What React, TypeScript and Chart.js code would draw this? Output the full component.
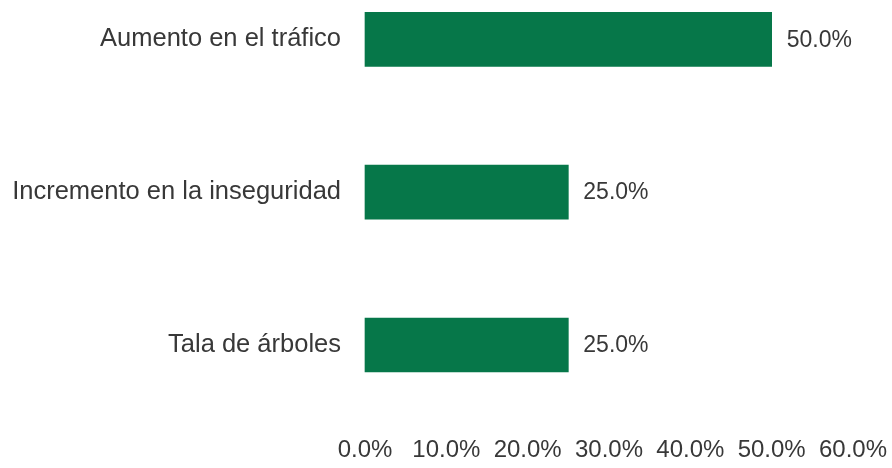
import React, { useEffect, useRef } from "react";
import { Chart, registerables } from "chart.js";

Chart.register(...registerables);

const categories = ["Aumento en el tráfico", "Incremento en la inseguridad", "Tala de árboles"];
const values = [50, 25, 25];
const xTicks = [0, 10, 20, 30, 40, 50, 60];

const FONT = "'Liberation Sans', Arial, sans-serif";
const TEXT = "#383838";
const GREEN = "#067749";

const valueLabels = {
  id: "valueLabels",
  afterDatasetsDraw(chart: any) {
    const ctx = chart.ctx;
    const meta = chart.getDatasetMeta(0);
    ctx.save();
    ctx.font = `23px ${FONT}`;
    ctx.fillStyle = TEXT;
    ctx.textAlign = "left";
    ctx.textBaseline = "middle";
    meta.data.forEach((bar: any, i: number) => {
      const v = chart.data.datasets[0].data[i] as number;
      ctx.fillText(v.toFixed(1) + "%", bar.x + 15, bar.y + 1);
    });
    ctx.restore();
  },
};

export default function App() {
  const ref = useRef<HTMLCanvasElement>(null);
  useEffect(() => {
    if (!ref.current) return;
    const chart = new Chart(ref.current, {
      type: "bar",
      data: {
        labels: categories,
        datasets: [
          {
            data: values,
            backgroundColor: GREEN,
            barThickness: 54,
            borderWidth: 0,
            clip: false as any,
          },
        ],
      },
      options: {
        indexAxis: "y",
        animation: false,
        responsive: false,
        maintainAspectRatio: false,
        layout: { padding: { top: 37, right: 39, bottom: 0, left: 0 } },
        plugins: { legend: { display: false }, tooltip: { enabled: false } },
        scales: {
          x: {
            type: "linear",
            min: 0,
            max: 60,
            afterBuildTicks: (scale: any) => {
              scale.ticks = xTicks.map((v) => ({ value: v }));
            },
            afterFit: (scale: any) => {
              scale.height = 123;
              scale.paddingLeft = 0;
              scale.paddingRight = 0;
            },
            grid: { display: false, drawTicks: false },
            border: { display: false },
            ticks: {
              padding: 91,
              color: TEXT,
              font: { family: FONT, size: 24 },
              maxRotation: 0,
              autoSkip: false,
              callback: (v: any) => Number(v).toFixed(1) + "%",
            },
          },
          y: {
            offset: false,
            afterFit: (scale: any) => {
              scale.width = 365;
            },
            grid: { display: false, drawTicks: false },
            border: { display: false },
            ticks: {
              padding: 24,
              color: TEXT,
              font: { family: FONT, size: 25.5 },
            },
          },
        },
      },
      plugins: [valueLabels],
    });
    return () => chart.destroy();
  }, []);
  return (
    <div style={{ position: "absolute", left: 0, top: 0, width: 892, height: 468, background: "#fff" }}>
      <canvas ref={ref} width={892} height={468} style={{ width: 892, height: 468 }} />
    </div>
  );
}
